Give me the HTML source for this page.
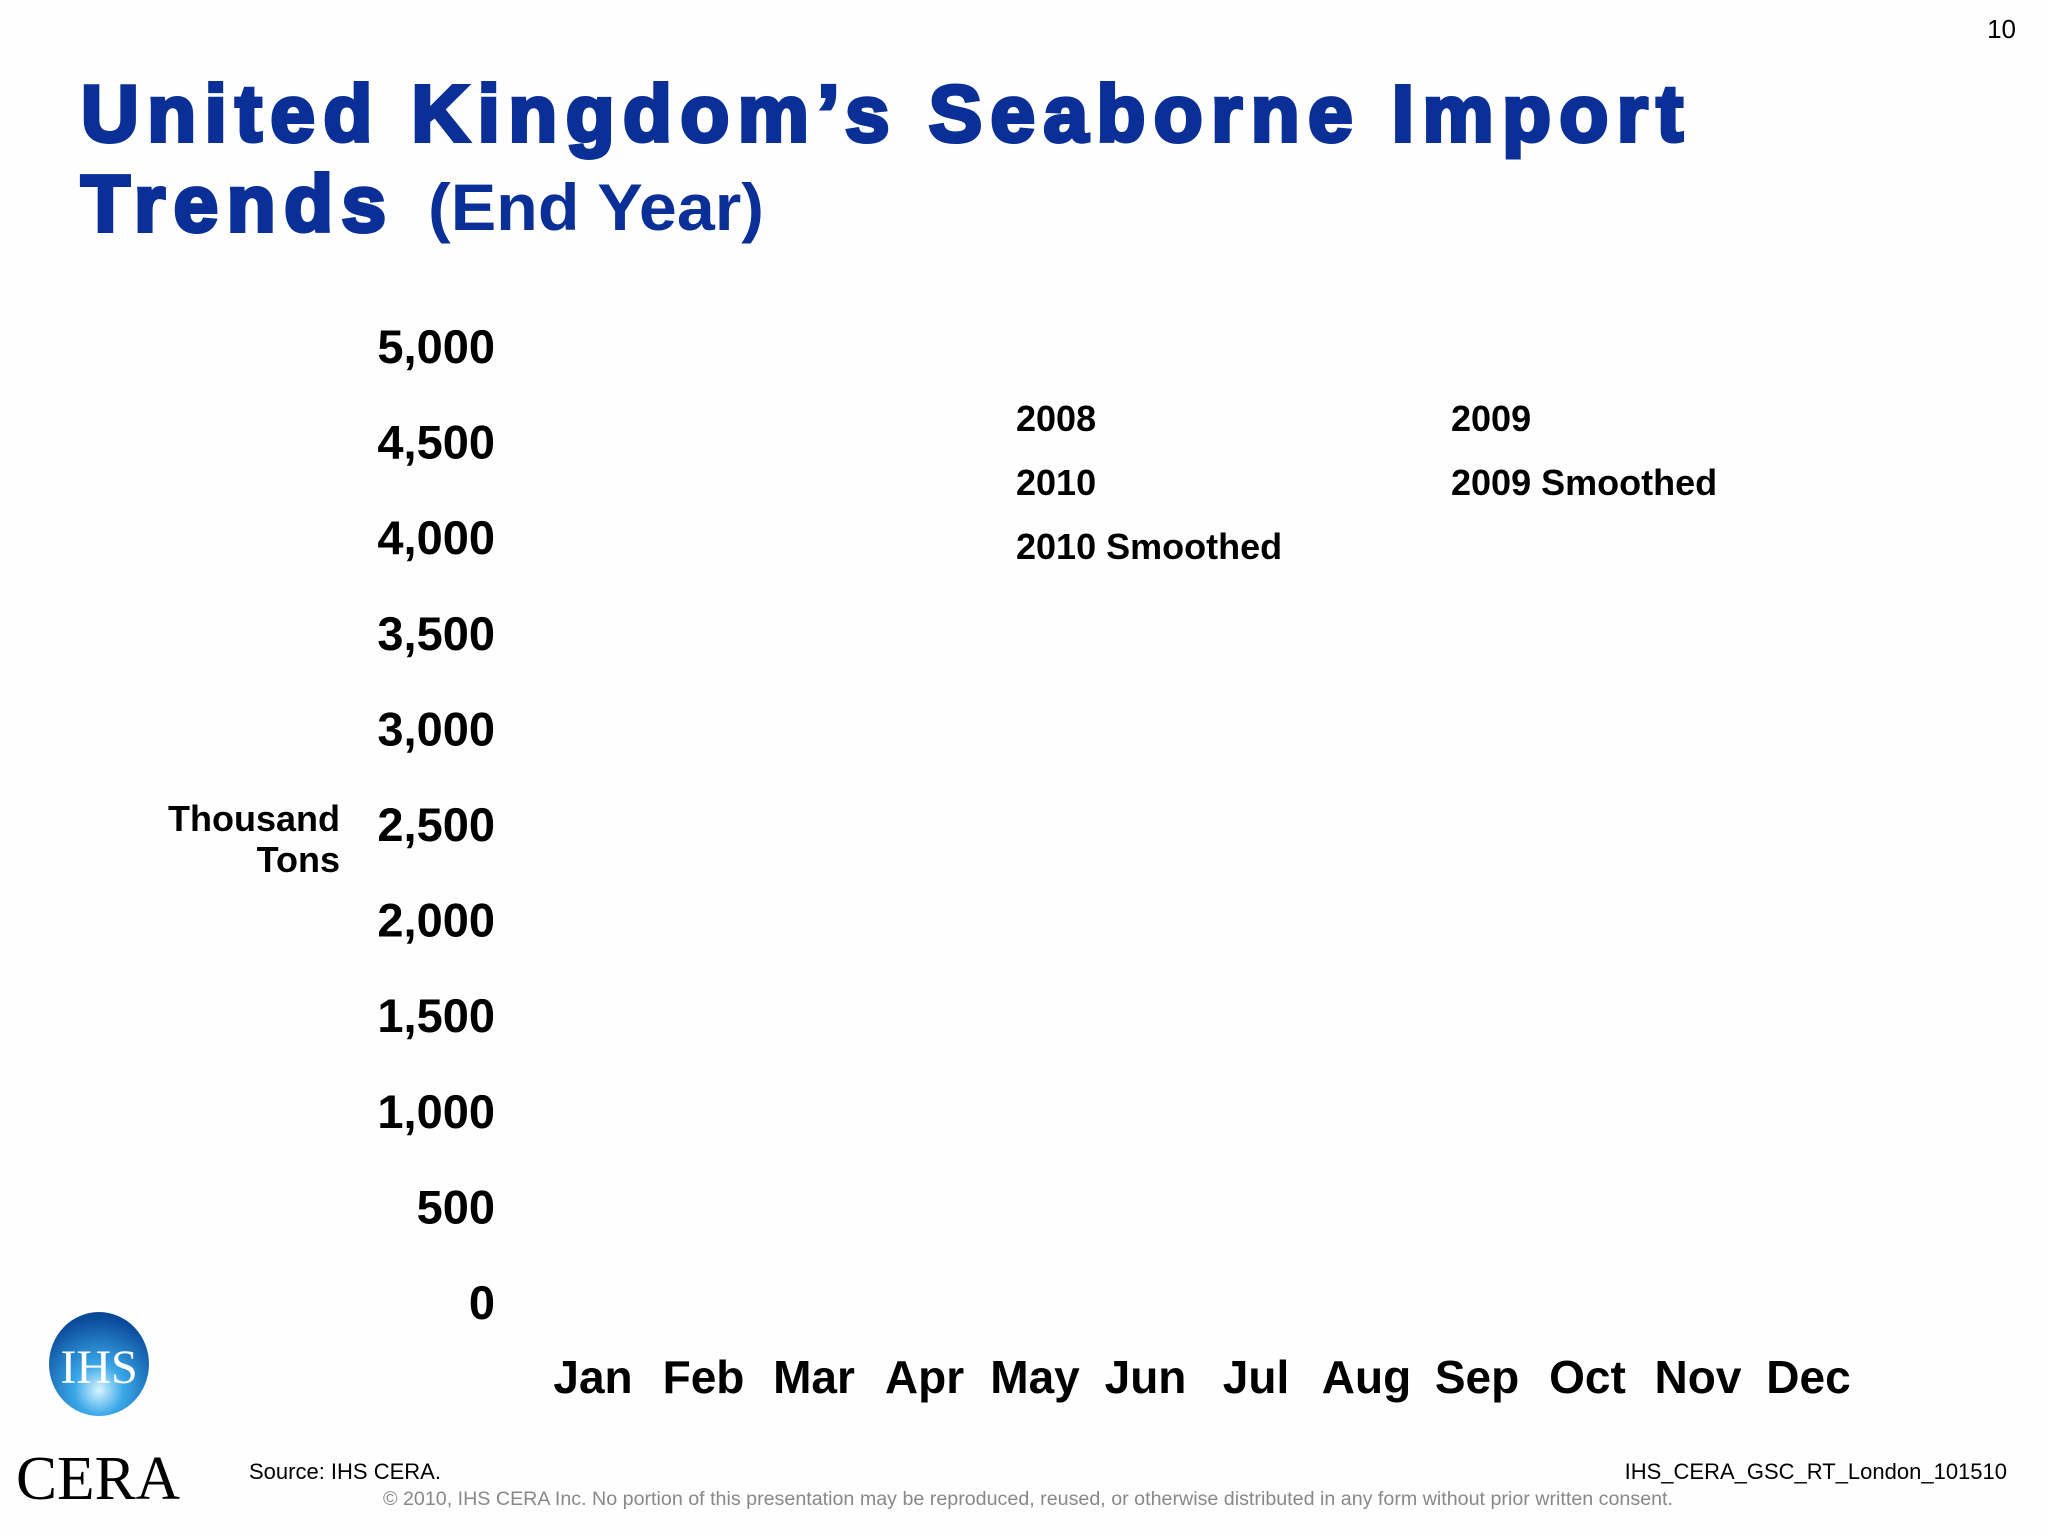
<!DOCTYPE html>
<html><head><meta charset="utf-8"><style>
html,body{margin:0;padding:0;background:#fff;}
svg{display:block;}
</style></head><body>
<svg width="2048" height="1536" viewBox="0 0 2048 1536" xmlns="http://www.w3.org/2000/svg">
<rect x="0" y="0" width="2048" height="1536" fill="#fefefe"/>
<text x="2016" y="38" text-anchor="end" font-family="Liberation Sans, sans-serif" font-size="26" fill="#000">10</text>
<text x="81" y="141" font-family="Liberation Sans, sans-serif" font-weight="bold" font-size="80" fill="#0a2f96" stroke="#0a2f96" stroke-width="4" textLength="1602" lengthAdjust="spacing">United Kingdom’s Seaborne Import</text>
<text x="81" y="231" font-family="Liberation Sans, sans-serif" font-weight="bold" font-size="80" fill="#0a2f96" stroke="#0a2f96" stroke-width="4" textLength="305" lengthAdjust="spacing">Trends</text>
<text x="428" y="230" font-family="Liberation Sans, sans-serif" font-weight="bold" font-size="66" fill="#0a2f96" textLength="336" lengthAdjust="spacingAndGlyphs">(End Year)</text>
<g id="yaxis"></g>
<g id="xaxis"></g>
<text x="340" y="831" text-anchor="end" font-family="Liberation Sans, sans-serif" font-weight="bold" font-size="36" fill="#000">Thousand</text>
<text x="340" y="872" text-anchor="end" font-family="Liberation Sans, sans-serif" font-weight="bold" font-size="36" fill="#000">Tons</text>
<g id="legend"></g>
<g>
<defs><radialGradient id="g1" cx="0.5" cy="0.75" r="0.7"><stop offset="0" stop-color="#d8f4ff"/><stop offset="0.35" stop-color="#3aa8e8"/><stop offset="1" stop-color="#0a4a9a"/></radialGradient></defs>
<ellipse cx="99" cy="1364" rx="50" ry="52" fill="url(#g1)"/>
<text x="99" y="1383" text-anchor="middle" font-family="Liberation Serif, serif" font-size="48" fill="#fff">IHS</text>
</g>
<text x="16" y="1499" font-family="Liberation Serif, serif" font-size="62" fill="#000" textLength="164" lengthAdjust="spacingAndGlyphs">CERA</text>
<text x="249" y="1479" font-family="Liberation Sans, sans-serif" font-size="22" fill="#000">Source: IHS CERA.</text>
<text x="2007" y="1479" text-anchor="end" font-family="Liberation Sans, sans-serif" font-size="22" fill="#000">IHS_CERA_GSC_RT_London_101510</text>
<text x="1028" y="1505" text-anchor="middle" font-family="Liberation Sans, sans-serif" font-size="19" fill="#888" textLength="1290" lengthAdjust="spacingAndGlyphs">© 2010, IHS CERA Inc. No portion of this presentation may be reproduced, reused, or otherwise distributed in any form without prior written consent.</text>
</svg>
<script>
const yTicks = [0, 500, 1000, 1500, 2000, 2500, 3000, 3500, 4000, 4500, 5000];
const yTickLabels = ["0","500","1,000","1,500","2,000","2,500","3,000","3,500","4,000","4,500","5,000"];
const months = ["Jan","Feb","Mar","Apr","May","Jun","Jul","Aug","Sep","Oct","Nov","Dec"];
const seriesNames = ["2008","2009","2010","2009 Smoothed","2010 Smoothed"];
const NS = "http://www.w3.org/2000/svg";
function yScale(v){ return 1303 - (v/5000)*(1303-347); }
function xScale(i){ return 593 + i*110.5; }
const ya = document.getElementById('yaxis');
yTicks.forEach((v,i)=>{
  const t = document.createElementNS(NS,'text');
  t.setAttribute('x', 495); t.setAttribute('y', yScale(v)+16);
  t.setAttribute('text-anchor','end');
  t.setAttribute('font-family','Liberation Sans, sans-serif');
  t.setAttribute('font-weight','bold'); t.setAttribute('font-size','47');
  t.textContent = yTickLabels[i];
  
  
  ya.appendChild(t);
});
const xa = document.getElementById('xaxis');
months.forEach((m,i)=>{
  const t = document.createElementNS(NS,'text');
  t.setAttribute('x', xScale(i)); t.setAttribute('y', 1393);
  t.setAttribute('text-anchor','middle');
  t.setAttribute('font-family','Liberation Sans, sans-serif');
  t.setAttribute('font-weight','bold'); t.setAttribute('font-size','46');
  t.textContent = m;
  
  
  xa.appendChild(t);
});
const lg = document.getElementById('legend');
seriesNames.forEach((s,i)=>{
  const col = i%2, row = Math.floor(i/2);
  const t = document.createElementNS(NS,'text');
  t.setAttribute('x', col ? 1451 : 1016);
  t.setAttribute('y', 431 + row*64);
  t.setAttribute('font-family','Liberation Sans, sans-serif');
  t.setAttribute('font-weight','bold'); t.setAttribute('font-size','36');
  t.textContent = s;
  
  
  lg.appendChild(t);
});
</script>
</body></html>
